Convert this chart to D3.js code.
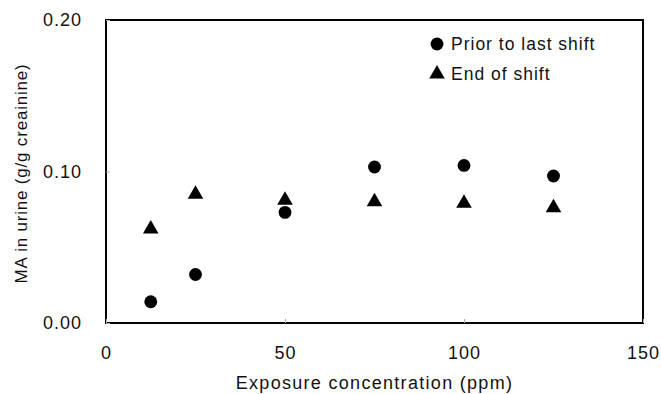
<!DOCTYPE html>
<html>
<head>
<meta charset="utf-8">
<script src="https://cdn.jsdelivr.net/npm/d3@7"></script>
<style>
  body { margin: 0; background: #fff; }
  text { font-family: "Liberation Sans", Arial, sans-serif; fill: #111; }
</style>
</head>
<body>
<div id="chart"></div>
<script>
// exposure concentration (ppm)
var conc = [12.5, 25, 50, 75, 100, 125];
// MA in urine (g/g creatinine)
var priorShift = [0.014, 0.032, 0.073, 0.103, 0.104, 0.097];
var endShift = [0.062, 0.085, 0.081, 0.080, 0.079, 0.076];
var xTicks = [0, 50, 100, 150];
var yTicks = [0.00, 0.10, 0.20];

var width = 661, height = 394;
var margin = {top: 20, right: 18, bottom: 71, left: 106};

var svg = d3.select("#chart")
  .append("svg")
    .attr("width", width)
    .attr("height", height);

var x = d3.scaleLinear()
  .domain([0, 150])
  .range([margin.left, width - margin.right]);

var y = d3.scaleLinear()
  .domain([0, 0.2])
  .range([height - margin.bottom, margin.top]);

// frame
svg.append("rect")
  .attr("x", x(0))
  .attr("y", y(0.2))
  .attr("width", x(150) - x(0))
  .attr("height", y(0) - y(0.2))
  .attr("fill", "none")
  .attr("stroke", "#000")
  .attr("stroke-width", 2);

// x axis
var xAxis = svg.append("g")
  .attr("transform", "translate(0," + y(0) + ")")
  .call(d3.axisBottom(x).tickValues(xTicks).tickSize(-4).tickPadding(23).tickFormat(d3.format("d")));
xAxis.select(".domain").remove();
xAxis.selectAll(".tick line").attr("stroke", "#aaa");
xAxis.selectAll("text").style("font-size", "18px").style("letter-spacing", "1px").attr("fill", "#111");

// y axis
var yAxis = svg.append("g")
  .attr("transform", "translate(" + x(0) + ",0)")
  .call(d3.axisLeft(y).tickValues(yTicks).tickSize(-4).tickPadding(24).tickFormat(d3.format(".2f")));
yAxis.select(".domain").remove();
yAxis.selectAll(".tick line").attr("stroke", "#aaa");
yAxis.selectAll("text").style("font-size", "18px").style("letter-spacing", "1px").attr("fill", "#111");

// axis titles
svg.append("text")
  .attr("x", (x(0) + x(150)) / 2)
  .attr("y", 389)
  .attr("text-anchor", "middle")
  .style("font-size", "18px")
  .style("letter-spacing", "1.3px")
  .text("Exposure concentration (ppm)");

svg.append("text")
  .attr("transform", "translate(27," + (y(0.1) + 2) + ")rotate(-90)")
  .attr("text-anchor", "middle")
  .style("font-size", "17px")
  .style("letter-spacing", "0.8px")
  .text("MA in urine (g/g creainine)");

var circleSym = d3.symbol().type(d3.symbolCircle).size(130);
var triSym = d3.symbol().type(d3.symbolTriangle).size(105);

// prior to last shift
svg.selectAll(".prior")
  .data(conc)
  .enter().append("path")
    .attr("class", "prior")
    .attr("d", circleSym)
    .attr("transform", function(d, i) { return "translate(" + x(d) + "," + y(priorShift[i]) + ")"; })
    .attr("fill", "#000");

// end of shift
svg.selectAll(".end")
  .data(conc)
  .enter().append("path")
    .attr("class", "end")
    .attr("d", triSym)
    .attr("transform", function(d, i) { return "translate(" + x(d) + "," + y(endShift[i]) + ")"; })
    .attr("fill", "#000");

// legend
var legend = [
  {label: "Prior to last shift", sym: circleSym, ly: 44},
  {label: "End of shift", sym: triSym, ly: 74}
];
var lg = svg.selectAll(".legend")
  .data(legend)
  .enter().append("g")
    .attr("class", "legend")
    .attr("transform", function(d) { return "translate(437," + d.ly + ")"; });
lg.append("path")
  .attr("d", function(d) { return d.sym(); })
  .attr("fill", "#000");
lg.append("text")
  .attr("x", 14)
  .attr("dy", "0.36em")
  .style("font-size", "17.5px")
  .style("letter-spacing", "1px")
  .text(function(d) { return d.label; });
</script>
</body>
</html>
